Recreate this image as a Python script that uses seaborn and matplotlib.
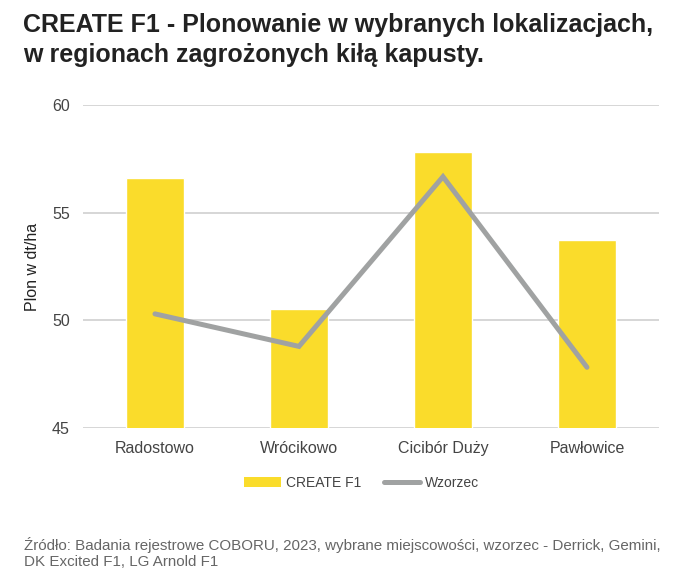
import matplotlib
matplotlib.use("Agg")
import matplotlib.pyplot as plt
import seaborn as sns
import pandas as pd
from matplotlib.lines import Line2D
from matplotlib.patches import Patch

LOCATIONS = ["Radostowo", "Wrócikowo", "Cicibór Duży", "Pawłowice"]
CREATE_F1 = [56.62, 50.52, 57.84, 53.75]
WZORZEC = [50.30, 48.79, 56.67, 47.82]

TITLE = "CREATE F1 - Plonowanie w wybranych lokalizacjach,\nw regionach zagrożonych kiłą kapusty."
SOURCE = ("Źródło: Badania rejestrowe COBORU, 2023, wybrane miejscowości, wzorzec - Derrick, Gemini,\n"
          "DK Excited F1, LG Arnold F1")

YELLOW = "#FADC2B"
GREY = "#A0A2A2"

df = pd.DataFrame({"lok": LOCATIONS, "create": CREATE_F1, "wzorzec": WZORZEC})

sns.set_style("white")
plt.rcParams["font.family"] = ["Liberation Sans", "DejaVu Sans"]

fig = plt.figure(figsize=(6.79, 5.84), dpi=100)
ax = fig.add_axes([0.1222, 0.2671, 0.8483, 0.5531])

sns.barplot(data=df, x="lok", y="create", color=YELLOW, width=0.4,
            saturation=1, ax=ax, zorder=2)
sns.lineplot(data=df, x="lok", y="wzorzec", color=GREY, linewidth=3.6,
             ax=ax, zorder=3, solid_capstyle="round", solid_joinstyle="miter")

ax.set_ylim(45, 60)
ax.set_xlim(-0.5, 3.5)
ax.set_yticks([45, 50, 55, 60])
ax.yaxis.grid(True, color="#D0D0D0", linewidth=1.2, zorder=0)
ax.set_axisbelow(True)
for s in ax.spines.values():
    s.set_visible(False)
ax.tick_params(axis="both", length=0, labelsize=11.5, colors="#444444", pad=9)
ax.tick_params(axis="y", pad=9.5)
ax.set_xlabel("")
ax.set_ylabel("Plon w dt/ha", fontsize=11.5, color="#222222", labelpad=8.5)

fig.text(0.034, 0.978, TITLE, fontsize=18, fontweight="bold", color="#222222",
         va="top", ha="left", linespacing=1.32)

handles = [Patch(facecolor=YELLOW, edgecolor="none"),
           Line2D([], [], color=GREY, linewidth=3.6, solid_capstyle="round")]
fig.legend(handles, ["CREATE F1", "Wzorzec"], loc="center", bbox_to_anchor=(0.533, 0.173),
           ncol=2, frameon=False, fontsize=10, handlelength=2.6, handletextpad=0.4,
           columnspacing=1.6, labelcolor="#444444")

fig.text(0.035, 0.025, SOURCE, fontsize=10.9, color="#666666", va="bottom", ha="left",
         linespacing=1.25)

fig.savefig("out.png", dpi=100)
